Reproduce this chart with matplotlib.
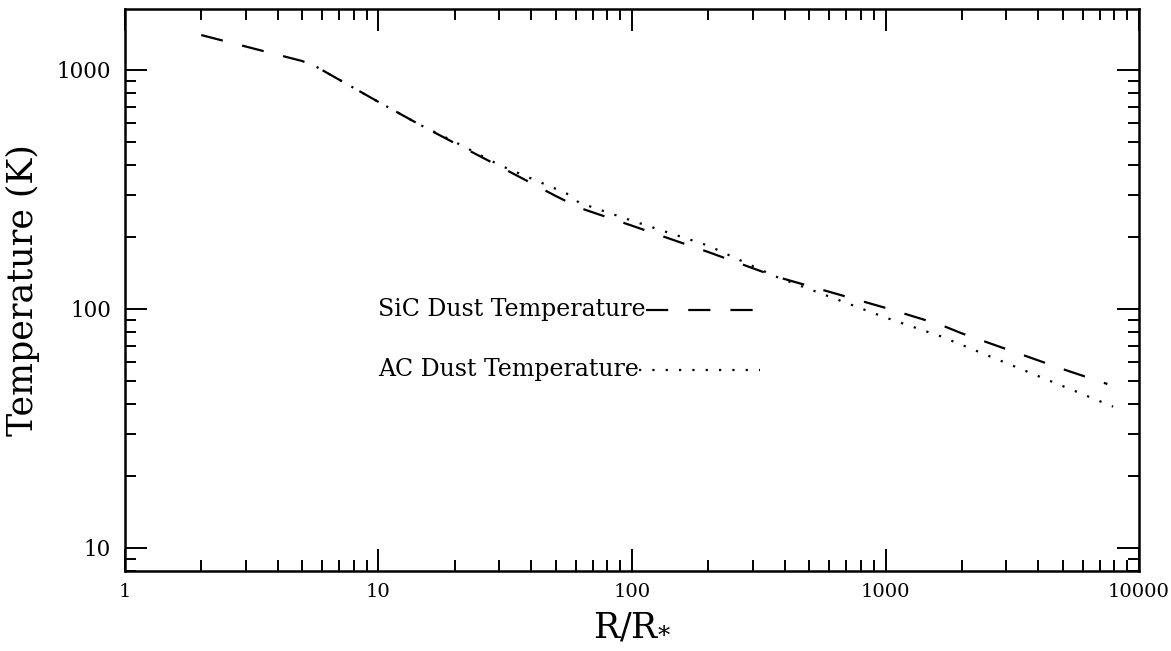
import matplotlib
matplotlib.use("Agg")
import matplotlib.pyplot as plt
from matplotlib.ticker import LogLocator, FixedFormatter, FixedLocator, NullFormatter

# radius (R/R*) and dust temperature (K)
sic_r = [2, 5, 5.7, 10, 14.6, 20, 30, 50, 62, 100, 200, 366, 1000, 1640, 2000, 5000, 7500]
sic_t = [1400, 1090, 1030, 735, 589, 494, 395, 297, 265, 223, 173, 137, 101, 86, 79, 56, 48.5]

ac_r = [5.7, 10, 14.6, 20, 30, 55, 62, 100, 200, 366, 1000, 1640, 7900]
ac_t = [1030, 735, 589, 500, 400, 305, 278, 234, 184, 137, 92, 77, 39]

x_ticks = [1, 10, 100, 1000, 10000]
x_labels = ["1", "10", "100", "1000", "10000"]
y_ticks = [10, 100, 1000]
y_labels = ["10", "100", "1000"]

sic_label = "SiC Dust Temperature"
ac_label = "AC Dust Temperature"

# legend layout (data coords)
leg_x0, leg_x1 = 10, 320
sic_leg_y, ac_leg_y = 99, 55.6

plt.rcParams['font.family'] = ['DejaVu Serif']
plt.rcParams['mathtext.fontset'] = 'dejavuserif'

fig = plt.figure(figsize=(11.71, 6.51), dpi=100)
ax = fig.add_axes([0.1067, 0.1229, 0.866, 0.8633])

dash = (0, (10, 9))
dot = (0, (1, 5))
ax.plot(sic_r, sic_t, color='black', lw=1.6, linestyle=dash)
ax.plot(ac_r, ac_t, color='black', lw=1.6, linestyle=dot)

ax.set_xscale('log')
ax.set_yscale('log')
ax.set_xlim(1, 10000)
ax.set_ylim(8, 1800)

ax.xaxis.set_major_locator(FixedLocator(x_ticks))
ax.xaxis.set_major_formatter(FixedFormatter(x_labels))
ax.yaxis.set_major_locator(FixedLocator(y_ticks))
ax.yaxis.set_major_formatter(FixedFormatter(y_labels))
for a in (ax.xaxis, ax.yaxis):
    a.set_minor_locator(LogLocator(base=10, subs=range(2, 10), numticks=20))
    a.set_minor_formatter(NullFormatter())

ax.tick_params(which='both', direction='in', top=True, right=True, width=1.4, color='black')
ax.tick_params(which='major', length=16)
ax.tick_params(which='minor', length=8)
ax.tick_params(axis='x', labelsize=14, pad=9)
ax.tick_params(axis='y', labelsize=15.5, pad=10)
for s in ax.spines.values():
    s.set_linewidth(1.8)

ax.set_ylabel("Temperature (K)", fontsize=25, labelpad=12)
ax.set_xlabel(r"R/R$_{*}$", fontsize=25, labelpad=6)

# labels with line samples, as in the original
t1 = ax.text(leg_x0, sic_leg_y, sic_label, fontsize=17, ha='left', va='center')
t2 = ax.text(leg_x0, ac_leg_y, ac_label, fontsize=17, ha='left', va='center')
fig.canvas.draw()
inv = ax.transData.inverted()
for t, y, ls in [(t1, sic_leg_y, dash), (t2, ac_leg_y, dot)]:
    bb = t.get_window_extent()
    xe = inv.transform((bb.x1, 0))[0]
    ax.plot([xe, leg_x1], [y, y], color='black', lw=1.6, linestyle=ls)

fig.savefig("out.png", dpi=100)
